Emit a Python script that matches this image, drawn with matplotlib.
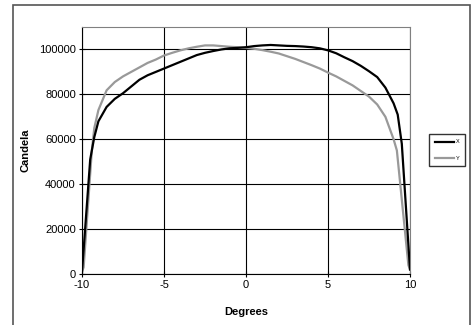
import matplotlib
matplotlib.use("Agg")
import matplotlib.pyplot as plt
from matplotlib.patches import Rectangle

# angle (degrees) and candela readings for the two axes
deg_x = [-10, -9.5, -9.25, -9.0, -8.5, -8.0, -7.5, -7.0, -6.5, -6.0, -5.5, -5.0,
         -4.5, -4.0, -3.5, -3.0, -2.5, -2.0, -1.5, -1.0, -0.5, 0, 0.5, 1.0, 1.5,
         2.0, 2.5, 3.0, 3.5, 4.0, 4.5, 5.0, 5.5, 6.0, 6.5, 7.0, 7.5, 8.0, 8.5,
         9.0, 9.25, 9.5, 10]
cd_x = [1000, 51000, 61000, 68000, 74400, 78000, 80500, 83500, 86500, 88500,
        90000, 91500, 93000, 94500, 96000, 97500, 98500, 99300, 100000, 100500,
        100700, 101000, 101500, 101800, 102000, 101800, 101600, 101500, 101300,
        101000, 100500, 99600, 98300, 96500, 94800, 92700, 90300, 87700, 83000,
        76000, 71000, 58000, 2000]

deg_y = [-10, -9.9, -9.4, -9.25, -9.0, -8.5, -8.0, -7.5, -7.0, -6.5, -6.0, -5.5,
         -5.0, -4.5, -4.0, -3.5, -3.0, -2.5, -2.0, -1.5, -1.0, -0.5, 0, 0.5,
         1.0, 1.5, 2.0, 2.5, 3.0, 3.5, 4.0, 4.5, 5.0, 5.5, 6.0, 6.5, 7.0, 7.5,
         8.0, 8.5, 9.0, 9.2, 9.9, 10]
cd_y = [1000, 3000, 55000, 65000, 73000, 81800, 85500, 88000, 90000, 92000,
        94000, 95500, 97300, 98500, 99600, 100500, 101200, 101800, 101800,
        101500, 101200, 101000, 100700, 100300, 99700, 99000, 98200, 97000,
        95800, 94400, 93000, 91500, 89700, 88000, 86000, 84000, 81500, 79000,
        75500, 70000, 60000, 55000, 4000, 2000]

x_ticks = [-10, -5, 0, 5, 10]
y_ticks = [0, 20000, 40000, 60000, 80000, 100000]

plt.rcParams['font.family'] = ['Liberation Sans', 'DejaVu Sans']

fig = plt.figure(figsize=(4.75, 3.25), dpi=100)
ax = fig.add_axes([82 / 475, 1 - 274 / 325, 328 / 475, 247 / 325])

# outer chart frame
fig.patches.append(Rectangle((13 / 475, -0.1), 457 / 475, 1.1 - 5 / 325,
                             transform=fig.transFigure, fill=False,
                             edgecolor='#555555', linewidth=1.2))

ax.plot(deg_x, cd_x, color='black', linewidth=1.6, label='X', zorder=3)
ax.plot(deg_y, cd_y, color='#999999', linewidth=1.6, label='Y', zorder=2)

ax.set_xlim(-10, 10)
ax.set_ylim(0, 110000)
ax.set_xticks(x_ticks)
ax.set_yticks(y_ticks)
ax.set_xticklabels([str(t) for t in x_ticks], fontsize=8)
ax.set_yticklabels([str(t) for t in y_ticks], fontsize=8)
ax.tick_params(direction='inout', length=5, width=0.8, pad=2)
ax.grid(True, color='black', linewidth=0.8)
ax.set_axisbelow(True)

for side in ['top', 'right']:
    ax.spines[side].set_color('#808080')
for side in ['left', 'bottom']:
    ax.spines[side].set_color('black')

ax.set_xlabel('Degrees', fontsize=8, fontweight='bold', labelpad=12)
ax.set_ylabel('Candela', fontsize=8, fontweight='bold', labelpad=6)

fig.legend(loc='center', bbox_to_anchor=(447 / 475, 1 - 150 / 325),
           fontsize=4, frameon=True, fancybox=False, edgecolor='black',
           handlelength=3.5, handletextpad=0.3, borderpad=1.0,
           labelspacing=2.0)

fig.savefig('out.png', dpi=100)
